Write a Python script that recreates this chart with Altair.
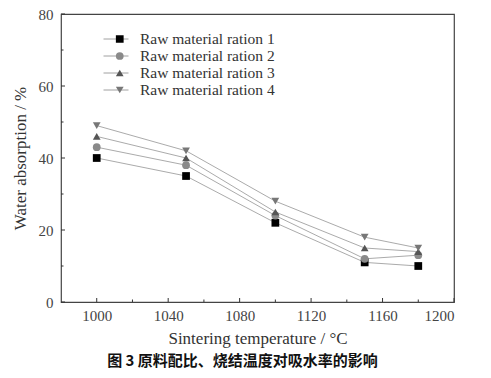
import altair as alt
import pandas as pd

temps = [1000, 1050, 1100, 1150, 1180]
series_names = ["Raw material ration 1", "Raw material ration 2",
                "Raw material ration 3", "Raw material ration 4"]
r1 = [40, 35, 22, 11, 10]
r2 = [43, 38, 24, 12, 13]
r3 = [46, 40, 25, 15, 14]
r4 = [49, 42, 28, 18, 15]
marker_shapes = ["square", "circle", "triangle-up", "triangle-down"]
marker_colors = ["#000000", "#8a8a8a", "#555555", "#777777"]
x_major = [1000, 1040, 1080, 1120, 1160, 1200]
x_minor = [1020, 1060, 1100, 1140, 1180]
y_major = [0, 20, 40, 60, 80]
y_minor = [10, 30, 50, 70]

W, H = 393, 288

rows = []
for name, vals in zip(series_names, [r1, r2, r3, r4]):
    for t, v in zip(temps, vals):
        rows.append({"temp": t, "wa": v, "series": name})
df = pd.DataFrame(rows)

serif = "Liberation Serif"
xs = alt.Scale(domain=[980, 1200], nice=False, zero=False)
ys = alt.Scale(domain=[0, 80], nice=False)

x_main = alt.X("temp:Q", scale=xs,
               axis=alt.Axis(values=x_major, title="Sintering temperature / °C",
                             format="d", grid=False, tickSize=0, labelPadding=6,
                             domain=False, orient="bottom",
                             labelFont=serif, labelFontSize=15, labelColor="#444",
                             titleFont=serif, titleFontSize=17, titleFontWeight="normal",
                             titleColor="#333", titlePadding=7))
y_main = alt.Y("wa:Q", scale=ys,
               axis=alt.Axis(values=y_major, title="Water absorption / %",
                             grid=False, tickSize=0, labelPadding=8, domain=False,
                             orient="left",
                             labelFont=serif, labelFontSize=15, labelColor="#444",
                             titleFont=serif, titleFontSize=17, titleFontWeight="normal",
                             titleColor="#333", titlePadding=9))

lines = alt.Chart(df).mark_line(strokeWidth=0.9).encode(
    x=x_main, y=y_main,
    color=alt.Color("series:N",
                    scale=alt.Scale(domain=series_names, range=["#a0a0a0"] * 4),
                    legend=alt.Legend(title=None, orient="none", legendX=42, legendY=17,
                                      symbolType="stroke", symbolSize=625,
                                      symbolStrokeColor="#a0a0a0", symbolStrokeWidth=1,
                                      clipHeight=16, rowPadding=0, padding=0,
                                      labelFont=serif, labelFontSize=15.5,
                                      labelColor="#333", labelOffset=11,
                                      labelLimit=300)),
)

marker_legend = alt.Legend(title=None, orient="none", legendX=51, legendY=17,
                           symbolSize=60, clipHeight=16, rowPadding=0,
                           padding=0, labelExpr="''", symbolOpacity=1,
                           labelFontSize=15.5, labelFont=serif)

points = alt.Chart(df).mark_point(filled=True, size=60, opacity=1).encode(
    x="temp:Q", y="wa:Q",
    color=alt.Color("series:N",
                    scale=alt.Scale(domain=series_names, range=marker_colors),
                    legend=marker_legend),
    shape=alt.Shape("series:N",
                    scale=alt.Scale(domain=series_names, range=marker_shapes),
                    legend=marker_legend),
)

# inward axis ticks (major and minor)
xticks_major = alt.Chart(pd.DataFrame({"v": x_major})).mark_rule(
    color="#333", strokeWidth=1).encode(
    x=alt.X("v:Q", scale=xs), y=alt.value(H), y2=alt.value(H - 4))
xticks_minor = alt.Chart(pd.DataFrame({"v": x_minor})).mark_rule(
    color="#333", strokeWidth=1).encode(
    x=alt.X("v:Q", scale=xs), y=alt.value(H), y2=alt.value(H - 2.5))
yticks_major = alt.Chart(pd.DataFrame({"v": y_major})).mark_rule(
    color="#333", strokeWidth=1).encode(
    y=alt.Y("v:Q", scale=ys), x=alt.value(0), x2=alt.value(4))
yticks_minor = alt.Chart(pd.DataFrame({"v": y_minor})).mark_rule(
    color="#333", strokeWidth=1).encode(
    y=alt.Y("v:Q", scale=ys), x=alt.value(0), x2=alt.value(2.5))

chart = alt.layer(lines, points, xticks_major, xticks_minor,
                  yticks_major, yticks_minor).resolve_scale(
    color="independent", shape="independent"
).properties(
    width=W, height=H,
    background="white",
    autosize=alt.AutoSizeParams(type="none"),
    padding={"left": 53, "top": 6, "right": 29, "bottom": 68},
    title=alt.TitleParams("图 3  原料配比、烧结温度对吸水率的影响", orient="bottom",
                          anchor="middle", font="Noto Sans CJK SC", fontSize=15,
                          fontWeight="bold", color="#111", offset=8, dx=-15),
).configure_view(stroke="#444", strokeWidth=1.2)

chart.save("out.html", embed_options={"renderer": "svg", "actions": False})
